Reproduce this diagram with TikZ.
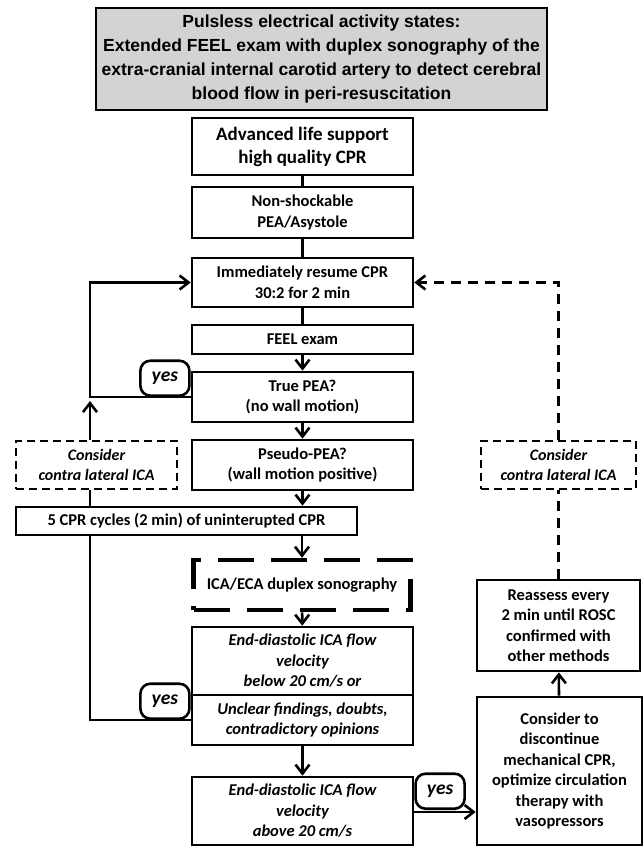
\documentclass[tikz,border=0pt]{standalone}
\usepackage{fontspec}
\setmainfont{Carlito}
\newfontfamily\headfont{Liberation Sans}
\usetikzlibrary{arrows.meta,positioning}
\definecolor{headgray}{RGB}{211,211,211}
\newcommand\boxfont{\fontsize{16.5}{20.5}\selectfont\bfseries}

\begin{document}
\begin{tikzpicture}[x=1pt,y=-1pt,line width=2.6pt,
    box/.style={draw,align=center,inner sep=0pt,font=\boxfont},
    ibox/.style={box,font=\boxfont\itshape},
    dbox/.style={ibox,font=\fontsize{16}{20.5}\selectfont\bfseries\itshape,dash pattern=on 8pt off 5pt,line width=2.4pt},
    yesbox/.style={draw,rounded corners=10pt,minimum width=49pt,minimum height=35pt,inner sep=0pt,font=\fontsize{19.5}{20}\selectfont\bfseries\itshape},
    arr/.style={-{Straight Barb[length=9pt,width=14pt]}},
    dline/.style={dash pattern=on 10pt off 7pt}]
  \useasboundingbox (0,0) rectangle (643,847);
  \node[draw,fill=headgray,align=center,minimum width=451pt,minimum height=102pt,
    font=\headfont\fontsize{17.5}{24}\selectfont\bfseries] (head) at (321.5,59)
    {Pulsless electrical activity states:\\Extended FEEL exam with duplex sonography of the\\
     extra-cranial internal carotid artery to detect cerebral\\blood flow in peri-resuscitation};
  \node[box,minimum width=221pt,minimum height=57pt,font=\fontsize{19}{23}\selectfont\bfseries] (als) at (302.5,146.5) {Advanced life support\\high quality CPR};
  \node[box,minimum width=221pt,minimum height=51pt] (nonshock) at (302.5,212.5) {Non-shockable\\PEA/Asystole};
  \node[box,minimum width=221pt,minimum height=49pt] (resume) at (302.5,282.5) {Immediately resume CPR\\30:2 for 2 min};
  \node[box,minimum width=221pt,minimum height=29pt] (feel) at (302.5,339.5) {FEEL exam};
  \node[box,minimum width=221pt,minimum height=50pt] (truepea) at (302.5,397) {True PEA?\\(no wall motion)};
  \node[box,minimum width=221pt,minimum height=50pt] (pseudo) at (302.5,465) {Pseudo-PEA?\\(wall motion positive)};
  \node[box,minimum width=341pt,minimum height=28pt] (cycles) at (186.5,521) {5 CPR cycles (2 min) of uninterupted CPR};
  \node[box,minimum width=217pt,minimum height=50pt,line width=4.5pt,dash pattern=on 36pt off 17pt] (duplex) at (302,585) {ICA/ECA duplex sonography};
  \node[ibox,minimum width=221pt,minimum height=68pt] (below) at (302.5,661) {End-diastolic ICA flow\\velocity\\below 20 cm/s or};
  \node[ibox,minimum width=221pt,minimum height=50pt] (unclear) at (302.5,720) {Unclear findings, doubts,\\contradictory opinions};
  \node[ibox,minimum width=221pt,minimum height=68pt] (above) at (302.5,811) {End-diastolic ICA flow\\velocity\\above 20 cm/s};
  \node[dbox,minimum width=161pt,minimum height=48pt] (contraL) at (96.5,465) {Consider\\contra lateral ICA};
  \node[dbox,minimum width=155pt,minimum height=48pt] (contraR) at (558.5,465) {Consider\\contra lateral ICA};
  \node[box,minimum width=163pt,minimum height=91pt] (reassess) at (558.5,625.5) {Reassess every\\2 min until ROSC\\confirmed with\\other methods};
  \node[box,minimum width=165pt,minimum height=148pt] (stopcpr) at (559.5,771) {Consider to\\discontinue\\mechanical CPR,\\optimize circulation\\therapy with\\vasopressors};
  \node[yesbox,anchor=south east] (yes1) at (truepea.west) {yes};
  \node[yesbox,anchor=south east] (yes2) at (unclear.west) {yes};
  \node[yesbox,anchor=south west] (yes3) at ([yshift=1pt]above.east) {yes};
  \coordinate (loopL) at (90,397);
  \draw (als) -- (nonshock);
  \draw (nonshock) -- (resume);
  \draw (resume) -- (feel);
  \draw[arr] (feel) -- (truepea);
  \draw[arr] (truepea) -- (pseudo);
  \draw[arr] (pseudo) -- (pseudo.south |- cycles.north);
  \draw[arr] (duplex.north |- cycles.south) -- (duplex);
  \draw[arr] (duplex) -- (below);
  \draw[arr] (unclear) -- (above);
  \draw[arr] ([yshift=-1pt]above.east) -- ([yshift=-1pt]above.east -| stopcpr.west);
  \draw[arr] (stopcpr) -- (reassess);
  \draw[arr] (truepea.west) -- (loopL) |- (resume.west);
  \draw[arr,shorten >=4pt] (loopL |- contraL.north) -- (loopL);
  \draw (loopL |- cycles.north) -- (loopL |- contraL.south);
  \draw (unclear.west) -| (loopL |- cycles.south);
  \draw[dline] (reassess) -- (contraR);
  \draw[dline,arr] (contraR.north) |- (resume.east);
\end{tikzpicture}
\end{document}
